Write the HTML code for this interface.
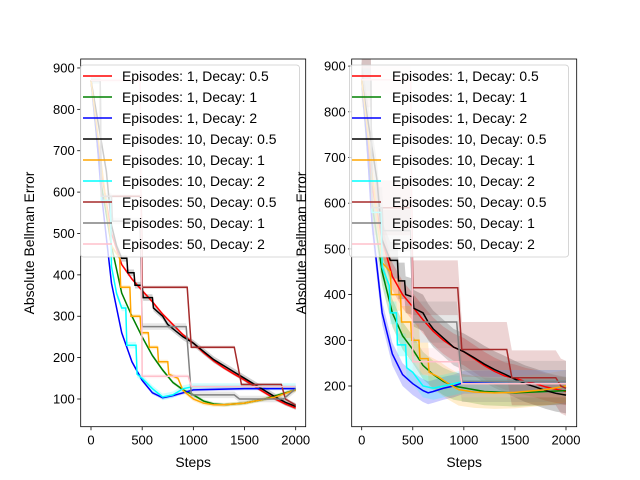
<!DOCTYPE html>
<html><head><meta charset="utf-8">
<style>
html,body{margin:0;padding:0;background:#fff;}
svg{display:block;font-family:"Liberation Sans","DejaVu Sans",sans-serif;}
</style></head>
<body>
<svg id="chart" width="640" height="480" viewBox="0 0 640 480"></svg>
<script>
const seriesNames = ["Episodes: 1, Decay: 0.5","Episodes: 1, Decay: 1","Episodes: 1, Decay: 2","Episodes: 10, Decay: 0.5","Episodes: 10, Decay: 1","Episodes: 10, Decay: 2","Episodes: 50, Decay: 0.5","Episodes: 50, Decay: 1","Episodes: 50, Decay: 2"];
const seriesColors = ["red","green","blue","black","orange","cyan","brown","gray","pink"];
const xTicks = [0,500,1000,1500,2000];
const leftYTicks = [100,200,300,400,500,600,700,800,900];
const rightYTicks = [200,300,400,500,600,700,800,900];
// left panel mean curves [step, value]
const leftData = [
 [[0,870],[100,650],[200,500],[300,425],[400,390],[500,362],[600,335],[700,305],[800,280],[900,255],[1000,235],[1100,212],[1200,192],[1300,175],[1400,160],[1500,146],[1600,130],[1700,115],[1800,100],[1900,88],[2000,78]],
 [[0,870],[100,620],[200,470],[300,356],[400,300],[500,250],[600,205],[700,170],[800,140],[900,122],[1000,110],[1100,95],[1200,88],[1300,86],[1500,90],[1700,100],[1900,115],[2000,122]],
 [[0,870],[50,750],[100,600],[200,380],[300,260],[400,190],[500,145],[600,115],[700,103],[800,108],[900,115],[1000,122],[1500,125],[2000,125]],
 [[0,870],[150,650],[200,520],[250,470],[300,440],[350,440],[360,405],[420,405],[430,375],[500,375],[510,345],[600,345],[610,320],[700,300],[750,280],[800,270],[900,250],[1000,235],[1100,215],[1200,195],[1300,180],[1400,165],[1500,150],[1600,135],[1700,120],[1800,105],[1900,92],[2000,82]],
 [[0,870],[200,470],[280,440],[290,370],[380,370],[390,300],[480,300],[490,260],[560,260],[570,225],[650,225],[660,190],[750,190],[760,160],[850,150],[900,120],[1000,100],[1100,90],[1200,86],[1300,86],[1500,90],[1800,105],[2000,122]],
 [[0,870],[90,870],[100,580],[190,580],[200,420],[250,355],[300,320],[340,320],[350,230],[440,230],[450,160],[500,150],[600,125],[700,105],[800,110],[900,125],[1000,130],[2000,130]],
 [[0,870],[90,870],[100,590],[490,590],[500,370],[940,370],[980,225],[1400,225],[1470,135],[1860,135],[1900,100],[2000,85]],
 [[0,870],[90,870],[100,590],[200,590],[210,530],[480,530],[500,275],[930,275],[980,110],[1400,110],[1450,100],[1880,100],[2000,125]],
 [[0,870],[480,870],[500,155],[950,155],[980,130],[2000,130]]
];
const leftSpread = [4,4,4,8,5,8,4,8,5];
// right panel mean curves [step, value]
const rightData = [
 [[0,870],[100,640],[200,520],[300,440],[400,400],[500,373],[600,345],[700,320],[800,300],[900,285],[1000,275],[1100,260],[1200,245],[1300,232],[1400,222],[1500,217],[1600,210],[1700,205],[1800,198],[1900,193],[2000,188]],
 [[0,870],[100,600],[200,450],[300,360],[400,310],[500,280],[600,245],[700,225],[800,210],[900,200],[1000,196],[1200,188],[1500,185],[1800,188],[2000,190]],
 [[0,870],[50,740],[100,560],[200,360],[300,270],[400,225],[500,205],[600,190],[650,185],[700,188],[800,195],[900,200],[1000,208],[1500,210],[2000,210]],
 [[0,870],[150,650],[200,520],[280,475],[350,475],[360,430],[420,430],[430,400],[500,395],[510,370],[600,360],[650,340],[700,325],[800,305],[900,285],[1000,275],[1100,262],[1200,248],[1300,236],[1400,226],[1500,215],[1600,205],[1700,198],[1800,190],[1900,184],[2000,180]],
 [[0,870],[200,470],[280,450],[290,400],[380,400],[390,340],[480,340],[490,300],[560,300],[570,260],[650,260],[660,230],[750,220],[850,205],[950,192],[1100,187],[1300,185],[1500,186],[1800,192],[2000,200]],
 [[0,870],[90,870],[100,580],[190,580],[200,460],[270,420],[280,360],[340,360],[350,290],[430,290],[440,240],[500,230],[600,200],[700,195],[800,200],[1000,210],[2000,210]],
 [[0,870],[90,870],[100,590],[490,590],[500,415],[940,415],[980,280],[1420,280],[1470,218],[1900,218],[1950,200],[2000,195]],
 [[0,870],[90,870],[100,590],[200,590],[210,540],[480,540],[500,340],[930,340],[980,210],[2000,210]],
 [[0,870],[480,870],[500,253],[950,253],[980,205],[2000,205]]
];
const rightSpread = [30,30,25,40,35,25,60,45,30];

const NS="http://www.w3.org/2000/svg";
const svg=document.getElementById('chart');
function mk(tag,attrs,parent){const e=document.createElementNS(NS,tag);for(const k in attrs)e.setAttribute(k,attrs[k]);(parent||svg).appendChild(e);return e;}

const panels=[
 {name:'left',x0:80.7,x1:305.7,sx:v=>91+v*0.10235,sy:v=>399-(v-100)*0.4138,yTicks:leftYTicks,data:leftData,spread:leftSpread,bandOp:0.18,ylabX:34,legX:80,textX:122},
 {name:'right',x0:351.7,x1:576.7,sx:v=>361.7+v*0.10215,sy:v=>386-(v-200)*0.457,yTicks:rightYTicks,data:rightData,spread:rightSpread,bandOp:0.2,ylabX:306,legX:349,textX:392}
];
const topY=59,botY=426.7;

panels.forEach(p=>{
 const g=mk('g',{});
 
 
 const clip=mk('clipPath',{id:'clip-'+p.name},g);
 mk('rect',{x:p.x0,y:topY,width:p.x1-p.x0,height:botY-topY},clip);
 const plot=mk('g',{'clip-path':'url(#clip-'+p.name+')'},g);
 p.data.forEach((pts,i)=>{
  const s=p.spread[i];
  let d='M'+pts.map(q=>p.sx(q[0])+','+p.sy(q[1]+s)).join('L');
  d+='L'+pts.slice().reverse().map(q=>p.sx(q[0])+','+p.sy(q[1]-s)).join('L')+'Z';
  const b=mk('path',{d:d,fill:seriesColors[i],'fill-opacity':p.bandOp,stroke:'none'},plot);
  
  
 });
 p.data.forEach((pts,i)=>{
  const d='M'+pts.map(q=>p.sx(q[0])+','+p.sy(q[1])).join('L');
  const l=mk('path',{d:d,fill:'none',stroke:seriesColors[i],'stroke-width':1.5},plot);
  
  
 });
 const fr=mk('rect',{x:p.x0,y:topY,width:p.x1-p.x0,height:botY-topY,fill:'none',stroke:'#000','stroke-width':0.8},g);
 
 
 xTicks.forEach(t=>{
  const x=p.sx(t);
  mk('line',{x1:x,x2:x,y1:botY,y2:botY+3.5,stroke:'#000','stroke-width':0.8},g);
  const tx=mk('text',{x:x,y:botY+18,'font-size':13,'text-anchor':'middle',fill:'#000'},g);
  tx.textContent=t;
  
  
 });
 p.yTicks.forEach(t=>{
  const y=p.sy(t);
  mk('line',{x1:p.x0-3.5,x2:p.x0,y1:y,y2:y,stroke:'#000','stroke-width':0.8},g);
  const tx=mk('text',{x:p.x0-6,y:y+4.5,'font-size':13,'text-anchor':'end',fill:'#000'},g);
  tx.textContent=t;
  
  
 });
 const xl=mk('text',{x:(p.x0+p.x1)/2,y:467,'font-size':13.9,'text-anchor':'middle',fill:'#000'},g);
 xl.textContent='Steps';
 
 
 const yl=mk('text',{x:0,y:0,'font-size':13.9,'text-anchor':'middle',fill:'#000',transform:'translate('+p.ylabX+',243) rotate(-90)'},g);
 yl.textContent='Absolute Bellman Error';
 
 
 const lg=mk('g',{},g);
 
 
 mk('rect',{x:p.legX+0.5,y:65,width:219,height:192,rx:3,fill:'#fff','fill-opacity':0.8,stroke:'#ccc','stroke-width':0.8},lg);
 seriesNames.forEach((n,i)=>{
  const y=76+i*21;
  const e=mk('g',{},lg);
  
  
  mk('line',{x1:p.legX+3,x2:p.legX+32,y1:y,y2:y,stroke:seriesColors[i],'stroke-width':1.5},e);
  const t=mk('text',{x:p.textX,y:y+5,'font-size':13.9,fill:'#000'},e);
  t.textContent=n;
 });
});
</script>
</body></html>
